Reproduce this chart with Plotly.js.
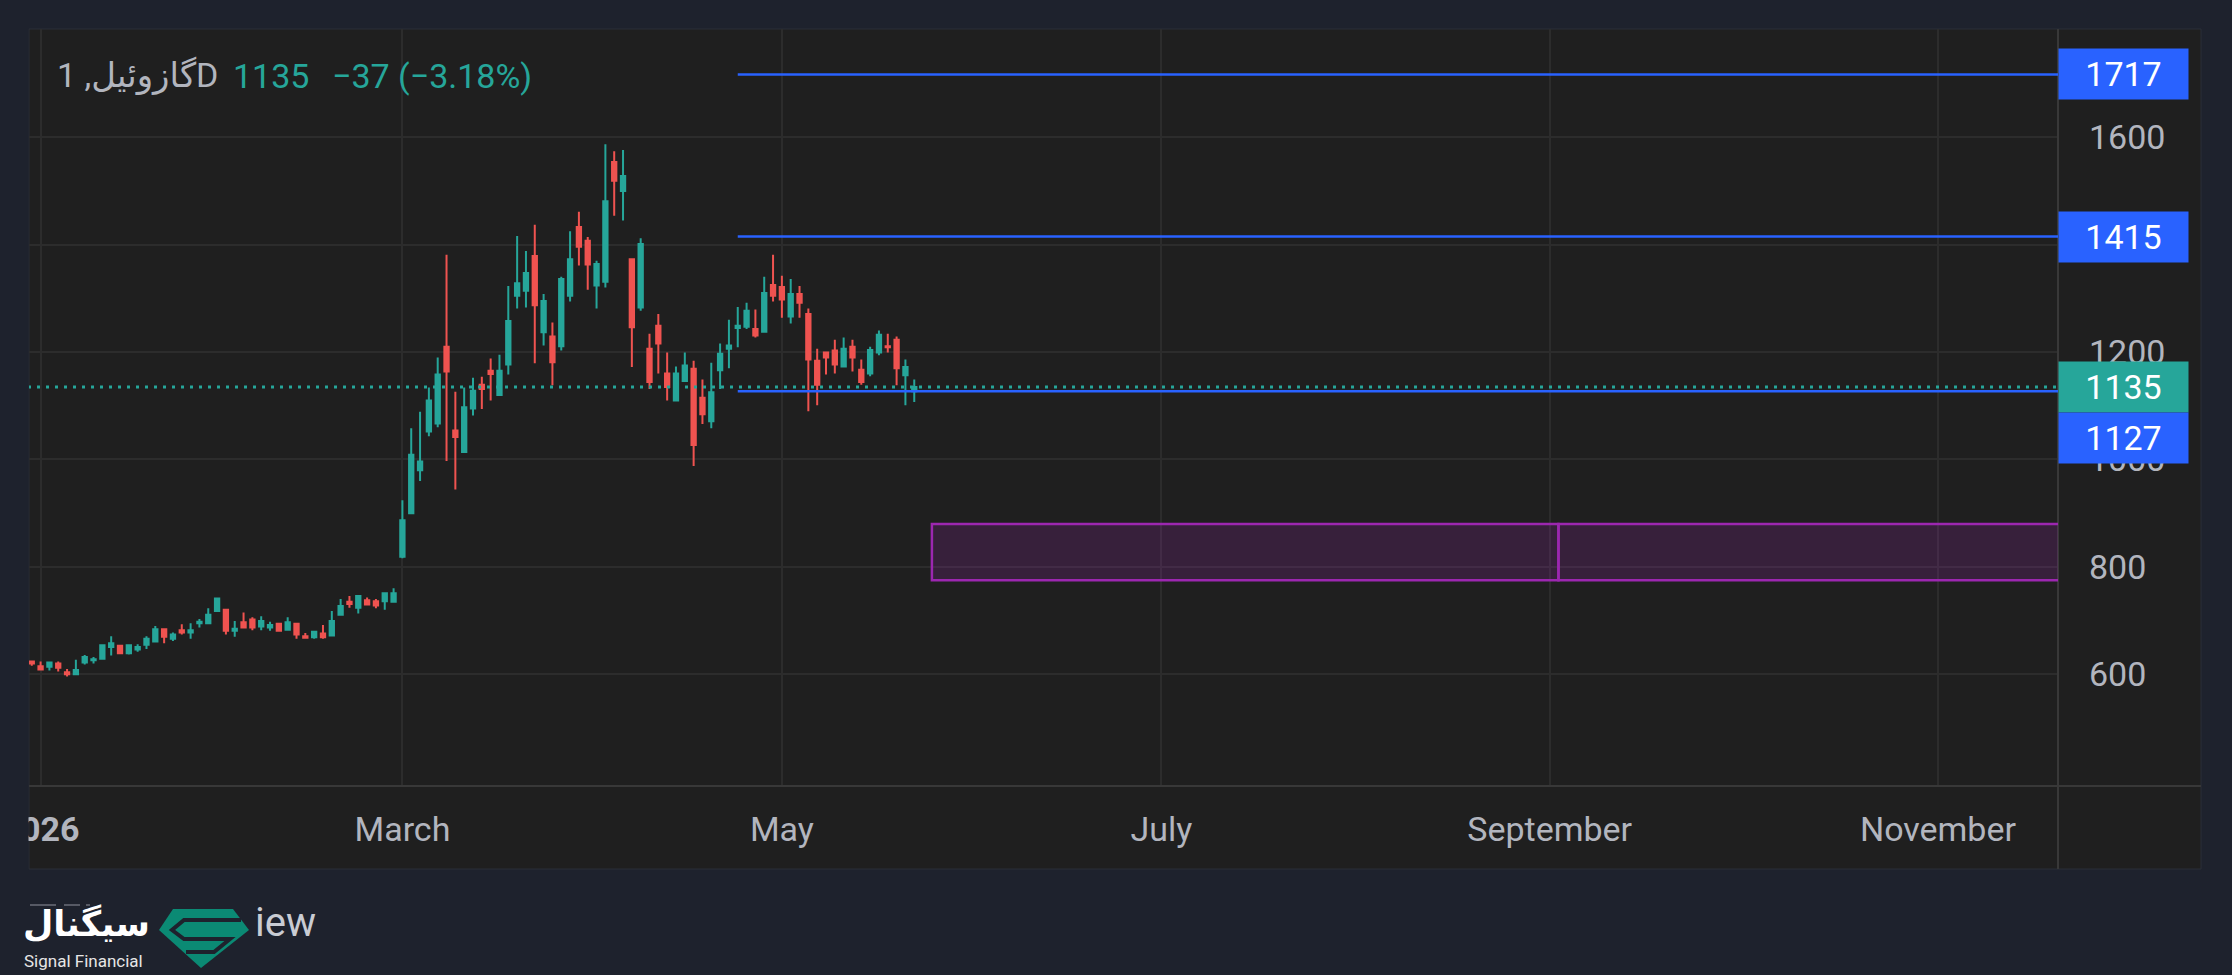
<!DOCTYPE html>
<html>
<head>
<meta charset="utf-8">
<script src="https://cdn.plot.ly/plotly-3.0.1.min.js"></script>
<style>
  html, body { margin:0; padding:0; background:#1e222d; }
  #chart { width:2232px; height:975px; }
</style>
</head>
<body>
<div id="chart"></div>
<script>
// ---------------- DATA ----------------
const dates = [
  '2025-12-31','2026-01-02',
  '2026-01-05','2026-01-06','2026-01-07','2026-01-08','2026-01-09',
  '2026-01-12','2026-01-13','2026-01-14','2026-01-15','2026-01-16',
  '2026-01-19','2026-01-20','2026-01-21','2026-01-22','2026-01-23',
  '2026-01-26','2026-01-27','2026-01-28','2026-01-29','2026-01-30',
  '2026-02-02','2026-02-03','2026-02-04','2026-02-05','2026-02-06',
  '2026-02-09','2026-02-10','2026-02-11','2026-02-12','2026-02-13',
  '2026-02-16','2026-02-17','2026-02-18','2026-02-19','2026-02-20',
  '2026-02-23','2026-02-24','2026-02-25','2026-02-26','2026-02-27',
  '2026-03-02','2026-03-03','2026-03-04','2026-03-05','2026-03-06',
  '2026-03-09','2026-03-10','2026-03-11','2026-03-12','2026-03-13',
  '2026-03-16','2026-03-17','2026-03-18','2026-03-19','2026-03-20',
  '2026-03-23','2026-03-24','2026-03-25','2026-03-26','2026-03-27',
  '2026-03-30','2026-03-31','2026-04-01','2026-04-02',
  '2026-04-06','2026-04-07','2026-04-08','2026-04-09','2026-04-10',
  '2026-04-13','2026-04-14','2026-04-15','2026-04-16','2026-04-17',
  '2026-04-20','2026-04-21','2026-04-22','2026-04-23','2026-04-24',
  '2026-04-27','2026-04-28','2026-04-29','2026-04-30','2026-05-01',
  '2026-05-04','2026-05-05','2026-05-06','2026-05-07','2026-05-08',
  '2026-05-11','2026-05-12','2026-05-13','2026-05-14','2026-05-15',
  '2026-05-18','2026-05-19','2026-05-20','2026-05-21','2026-05-22'
];
const openP = [
  624,615,614,620,604,600,622,626,629,651,653,639,646,655,661,684,666,682,678,695,
  695,718,720,681,697,702,689,687,694,683,694,671,669,676,672,711,735,724,738,736,
  736,735,819,900,980,1052,1067,1210,1054,1014,1095,1139,1165,1120,1177,1305,1314,1379,1237,1229,
  1211,1305,1433,1407,1324,1331,1554,1500,1373,1283,1206,1249,1160,1110,1146,1169,1115,1071,1166,1206,
  1245,1247,1243,1238,1325,1321,1266,1308,1271,1184,1199,1203,1173,1210,1167,1160,1199,1211,1223,1157,
  1127
];
const highP = [
  625,624,624,624,610,627,636,632,655,671,654,655,656,671,690,685,678,693,695,703,
  723,742,721,699,715,706,708,698,695,706,695,677,681,692,718,740,746,746,743,740,
  752,760,924,1058,1089,1134,1190,1381,1126,1134,1152,1154,1188,1195,1323,1416,1388,1437,1308,1255,
  1340,1425,1461,1414,1370,1587,1574,1576,1374,1412,1234,1271,1199,1173,1199,1184,1149,1180,1216,1260,
  1284,1292,1279,1340,1381,1342,1336,1323,1281,1206,1199,1223,1227,1223,1186,1210,1240,1234,1229,1186,
  1149
];
const lowP = [
  616,609,607,605,596,598,618,620,628,635,638,637,642,647,660,658,662,674,666,687,
  695,718,674,670,686,682,682,681,679,683,666,666,666,666,672,711,724,713,729,723,
  720,735,816,898,960,1043,1060,997,944,1013,1082,1094,1110,1119,1158,1281,1283,1179,1212,1138,
  1203,1294,1361,1316,1281,1320,1454,1445,1172,1277,1131,1160,1110,1110,1145,988,1066,1058,1131,1170,
  1209,1243,1227,1238,1294,1264,1253,1264,1090,1101,1158,1160,1172,1164,1139,1155,1194,1199,1138,1101,
  1107
];
const closeP = [
  620,609,622,612,600,608,632,628,654,658,639,654,651,666,684,670,674,678,682,698,
  711,741,681,685,687,687,699,692,681,697,674,668,679,669,699,727,731,746,730,728,
  751,751,887,1009,996,1110,1158,1164,1042,1097,1128,1131,1159,1165,1258,1328,1347,1287,1295,1181,
  1336,1373,1396,1363,1364,1481,1519,1528,1246,1401,1144,1216,1135,1160,1175,1027,1084,1125,1197,1212,
  1249,1277,1231,1310,1305,1298,1308,1292,1186,1139,1190,1177,1206,1190,1144,1204,1232,1209,1170,1172,
  1135
];

const symbolLabel = 'گازوئیل, 1D';
const lastPrice = 1135;
const changeText = '−37 (−3.18%)';
const levelPrices = [1717, 1415, 1127];
const levelStart = '2026-04-24';
const zoneLow = 775, zoneHigh = 880;
const zoneDates = ['2026-05-26', '2026-09-02', '2027-06-30'];
const holidays = ['2026-01-01', '2026-04-03'];
const xTickVals = ['2026-01-02','2026-03-02','2026-05-01','2026-07-01','2026-09-01','2026-11-02'];
const xTickText = ['<b>2026</b>','March','May','July','September','November'];
const yTickVals = [600, 800, 1000, 1200, 1400, 1600];
const yTickText = ['600','800','1000','1200','1400','1600'];

// ---------------- LAYOUT HELPERS ----------------
const W = 2232, H = 975;
const PL = 29, PR = 2058, PT = 29, PB = 786;
const UP = '#26a69a', DOWN = '#ef5350', BLUE = '#2962ff', PURPLE = '#9c27b0';
const FONT = 'Roboto, "Noto Sans", "DejaVu Sans", sans-serif';
const px = x => (x - PL) / (PR - PL);
const py = y => (PB - y) / (PB - PT);
function path(pts) {
  return 'M ' + pts.map(p => px(p[0]).toFixed(5) + ',' + py(p[1]).toFixed(5)).join(' L ') + ' Z';
}
function openPath(pts) {
  return 'M ' + pts.map(p => px(p[0]).toFixed(5) + ',' + py(p[1]).toFixed(5)).join(' L ');
}

const trace = {
  type: 'candlestick',
  x: dates, open: openP, high: highP, low: lowP, close: closeP,
  increasing: { line: { color: UP, width: 2 }, fillcolor: UP },
  decreasing: { line: { color: DOWN, width: 2 }, fillcolor: DOWN },
  hoverinfo: 'skip', showlegend: false
};

const shapes = [];
// panel background
shapes.push({ type:'rect', xref:'paper', yref:'paper', layer:'below',
  x0: px(29), x1: px(2201), y0: py(869), y1: py(29),
  fillcolor:'#1f1f1f', line:{ color:'#2a2e39', width:1 } });
// separators
shapes.push({ type:'line', xref:'paper', yref:'paper', layer:'above',
  x0: 1, x1: 1, y0: py(869), y1: py(29), line:{ color:'#383838', width:2 } });
shapes.push({ type:'line', xref:'paper', yref:'paper', layer:'above',
  x0: px(29), x1: px(2201), y0: 0, y1: 0, line:{ color:'#383838', width:2 } });
// left mask (clips first time label like the panel edge)
shapes.push({ type:'rect', xref:'paper', yref:'paper', layer:'above',
  x0: px(0), x1: px(28.5), y0: py(870), y1: py(29),
  fillcolor:'#1e222d', line:{ width:0 } });
// last price dotted line
shapes.push({ type:'line', xref:'x', yref:'y', layer:'above',
  x0: '2025-12-01', x1: zoneDates[2], y0: lastPrice, y1: lastPrice,
  line:{ color: UP, width: 3, dash: '3px,6px' } });
// horizontal levels
levelPrices.forEach(v => shapes.push({ type:'line', xref:'x', yref:'y', layer:'above',
  x0: levelStart, x1: zoneDates[2], y0: v, y1: v, line:{ color: BLUE, width: 2.5 } }));
// zone rectangles
for (let i = 0; i < zoneDates.length - 1; i++) {
  shapes.push({ type:'rect', xref:'x', yref:'y', layer:'above',
    x0: zoneDates[i], x1: zoneDates[i+1], y0: zoneLow, y1: zoneHigh,
    fillcolor:'rgba(156,39,176,0.2)', line:{ color: PURPLE, width: 2.5 } });
}
// logo diamond
shapes.push({ type:'path', xref:'paper', yref:'paper', layer:'above',
  path: path([[173,909],[233,909],[249,930],[201,968],[159,930]]),
  fillcolor:'#0b8a74', line:{ width:0 } });
shapes.push({ type:'path', xref:'paper', yref:'paper', layer:'above',
  path: openPath([[241,920],[184,920],[172,930],[184,939],[230,939],[214,952],[186,952]]),
  line:{ color:'#1e222d', width:4 } });
// faint watermark dashes above logo text
[[30,56],[64,80],[86,90]].forEach(s => shapes.push({ type:'line', xref:'paper', yref:'paper', layer:'above',
  x0: px(s[0]), x1: px(s[1]), y0: py(905), y1: py(905), line:{ color:'#6b6e78', width:1.5 } }));

const annotations = [];
// legend text
annotations.push({ xref:'paper', yref:'paper', x: px(55), y: py(76), xanchor:'left', yanchor:'middle',
  text: symbolLabel, showarrow:false, font:{ family: FONT, size: 34, color:'#b2b5be' } });
annotations.push({ xref:'paper', yref:'paper', x: px(231), y: py(76), xanchor:'left', yanchor:'middle',
  text: String(lastPrice), showarrow:false, font:{ family: FONT, size: 34, color: UP } });
annotations.push({ xref:'paper', yref:'paper', x: px(330), y: py(76), xanchor:'left', yanchor:'middle',
  text: changeText, showarrow:false, font:{ family: FONT, size: 34, color: UP } });
// price labels
function priceTag(v, color, shift) {
  return { xref:'paper', yref:'y', x: 1, y: v, xanchor:'left', yanchor:'middle', yshift: shift || 0,
    text: String(v), showarrow:false, bgcolor: color, width: 129, height: 50, borderpad: 0,
    align:'center', font:{ family: FONT, size: 34, color:'#ffffff' } };
}
annotations.push(priceTag(levelPrices[0], BLUE));
annotations.push(priceTag(levelPrices[1], BLUE));
annotations.push(priceTag(lastPrice, UP));
annotations.push(priceTag(levelPrices[2], BLUE, -47));
// logo text
annotations.push({ xref:'paper', yref:'paper', x: px(86), y: py(924), xanchor:'center', yanchor:'middle',
  text:'<b>سیگنال</b>', showarrow:false, font:{ family: FONT, size: 35, color:'#ffffff' } });
annotations.push({ xref:'paper', yref:'paper', x: px(22), y: py(961), xanchor:'left', yanchor:'middle',
  text:'Signal Financial', showarrow:false, font:{ family: FONT, size: 17, color:'#e6e6e6' } });
annotations.push({ xref:'paper', yref:'paper', x: px(253), y: py(922), xanchor:'left', yanchor:'middle',
  text:'iew', showarrow:false, font:{ family: FONT, size: 40, color:'#c9ccd3' } });

const layout = {
  width: W, height: H,
  margin: { l: PL, r: W - PR, t: PT, b: H - PB },
  paper_bgcolor: '#1e222d',
  plot_bgcolor: '#1f1f1f',
  showlegend: false,
  dragmode: false,
  xaxis: {
    type: 'date',
    range: ['2025-12-30 16:30', '2026-11-19 14:30'],
    rangebreaks: [ { bounds: ['sat', 'mon'] }, { values: holidays } ],
    rangeslider: { visible: false },
    tickmode: 'array', tickvals: xTickVals, ticktext: xTickText,
    showgrid: true, gridcolor: '#2c2c2c', gridwidth: 2,
    zeroline: false, showline: false, ticks: '',
    ticklabelstandoff: 20,
    tickfont: { family: FONT, size: 34, color: '#b2b5be' },
    fixedrange: true
  },
  yaxis: {
    side: 'right',
    range: [392, 1801.5],
    tickmode: 'array', tickvals: yTickVals, ticktext: yTickText,
    showgrid: true, gridcolor: '#2c2c2c', gridwidth: 2,
    zeroline: false, showline: false, ticks: '',
    ticklabelstandoff: 30,
    tickfont: { family: FONT, size: 34, color: '#b2b5be' },
    fixedrange: true
  },
  shapes: shapes,
  annotations: annotations,
  hovermode: false
};

Plotly.newPlot('chart', [trace], layout, { displayModeBar: false, staticPlot: true });
</script>
</body>
</html>
